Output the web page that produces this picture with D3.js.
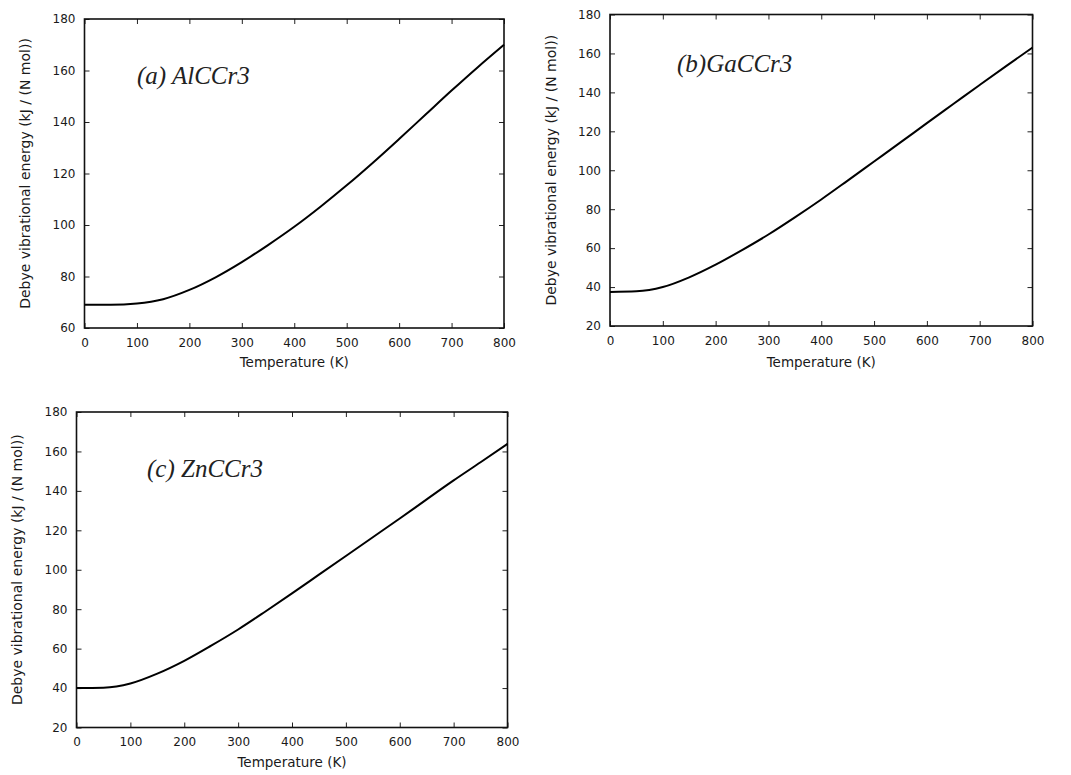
<!DOCTYPE html>
<html>
<head>
<meta charset="utf-8">
<script src="https://cdn.jsdelivr.net/npm/d3@7"></script>
<style>
  body { margin: 0; background: #fff; }
  svg { display: block; }
</style>
</head>
<body>
<svg id="chart" width="1071" height="775"></svg>
<script>
// temperatures (K) and Debye vibrational energy (kJ / (N mol))
const temps = [0, 50, 100, 150, 200, 250, 300, 350, 400, 450, 500, 550, 600, 650, 700, 750, 800];
const energyAlCCr3 = [69.0, 69.0, 69.5, 71.2, 74.8, 79.7, 85.6, 92.2, 99.3, 107.1, 115.4, 124.2, 133.4, 142.8, 152.2, 161.3, 170.0];
const energyGaCCr3 = [37.5, 37.8, 40.0, 45.0, 51.5, 59.0, 67.0, 75.8, 85.0, 94.7, 104.5, 114.3, 124.2, 134.0, 143.8, 153.5, 163.0];
const energyZnCCr3 = [40.0, 40.2, 42.3, 47.3, 53.8, 61.5, 69.7, 78.7, 88.0, 97.5, 107.0, 116.5, 126.0, 135.7, 145.3, 154.5, 163.8];
const xTicks = [0, 100, 200, 300, 400, 500, 600, 700, 800];
const yTicksA = [60, 80, 100, 120, 140, 160, 180];
const yTicksBC = [20, 40, 60, 80, 100, 120, 140, 160, 180];
const panelLabels = ["(a) AlCCr3", "(b)GaCCr3", "(c) ZnCCr3"];

const svg = d3.select("#chart");

// plot frames in page pixels
const panels = [
    { values: energyAlCCr3, yDomain: [60, 180], yTicks: yTicksA, label: panelLabels[0],
      x0: 84.5, x1: 504, y0: 19, y1: 328, labelX: 137, labelY: 84, yTitleX: 25, xTitleY: 367 },
    { values: energyGaCCr3, yDomain: [20, 180], yTicks: yTicksBC, label: panelLabels[1],
      x0: 610, x1: 1032.5, y0: 14.5, y1: 326, labelX: 677, labelY: 72, yTitleX: 551, xTitleY: 367 },
    { values: energyZnCCr3, yDomain: [20, 180], yTicks: yTicksBC, label: panelLabels[2],
      x0: 76.5, x1: 507.5, y0: 412, y1: 727.5, labelX: 147, labelY: 477, yTitleX: 17, xTitleY: 767 }
];

panels.forEach((p) => {
    const x = d3.scaleLinear().domain([0, 800]).range([p.x0, p.x1]);
    const y = d3.scaleLinear().domain(p.yDomain).range([p.y1, p.y0]);
    const g = svg.append("g");

    // inward ticks on all four sides
    g.append("g")
        .attr("transform", `translate(0,${p.y1})`)
        .call(d3.axisBottom(x).tickValues(xTicks).tickSize(-5).tickPadding(10).tickFormat(d3.format("d")));
    g.append("g")
        .attr("transform", `translate(0,${p.y0})`)
        .call(d3.axisTop(x).tickValues(xTicks).tickSize(-5).tickFormat(""));
    g.append("g")
        .attr("transform", `translate(${p.x0},0)`)
        .call(d3.axisLeft(y).tickValues(p.yTicks).tickSize(-5).tickPadding(9).tickFormat(d3.format("d")));
    g.append("g")
        .attr("transform", `translate(${p.x1},0)`)
        .call(d3.axisRight(y).tickValues(p.yTicks).tickSize(-5).tickFormat(""));

    g.selectAll(".domain").remove();
    g.selectAll(".tick line").attr("stroke", "#222").attr("stroke-width", 1);
    g.selectAll(".tick text")
        .style("font-family", "DejaVu Sans, sans-serif")
        .style("font-size", "12px")
        .attr("fill", "#1a1a1a");

    g.append("rect")
        .attr("x", p.x0)
        .attr("y", p.y0)
        .attr("width", p.x1 - p.x0)
        .attr("height", p.y1 - p.y0)
        .attr("fill", "none")
        .attr("stroke", "#111")
        .attr("stroke-width", 1.6);

    const line = d3.line()
        .x((d, i) => x(temps[i]))
        .y((d) => y(d))
        .curve(d3.curveMonotoneX);

    g.append("path")
        .datum(p.values)
        .attr("d", line)
        .attr("fill", "none")
        .attr("stroke", "#000")
        .attr("stroke-width", 2);

    g.append("text")
        .attr("x", p.labelX)
        .attr("y", p.labelY)
        .style("font-family", "Liberation Serif, serif")
        .style("font-style", "italic")
        .style("font-size", "25px")
        .attr("fill", "#222")
        .text(p.label);

    g.append("text")
        .attr("x", (p.x0 + p.x1) / 2)
        .attr("y", p.xTitleY)
        .attr("text-anchor", "middle")
        .style("font-family", "DejaVu Sans, sans-serif")
        .style("font-size", "13.5px")
        .attr("fill", "#1a1a1a")
        .text("Temperature (K)");

    g.append("text")
        .attr("transform", `translate(${p.yTitleX},${(p.y0 + p.y1) / 2}) rotate(-90)`)
        .attr("text-anchor", "middle")
        .attr("dy", "0.35em")
        .style("font-family", "DejaVu Sans, sans-serif")
        .style("font-size", "14px")
        .attr("fill", "#1a1a1a")
        .text("Debye vibrational energy (kJ / (N mol))");
});
</script>
</body>
</html>
